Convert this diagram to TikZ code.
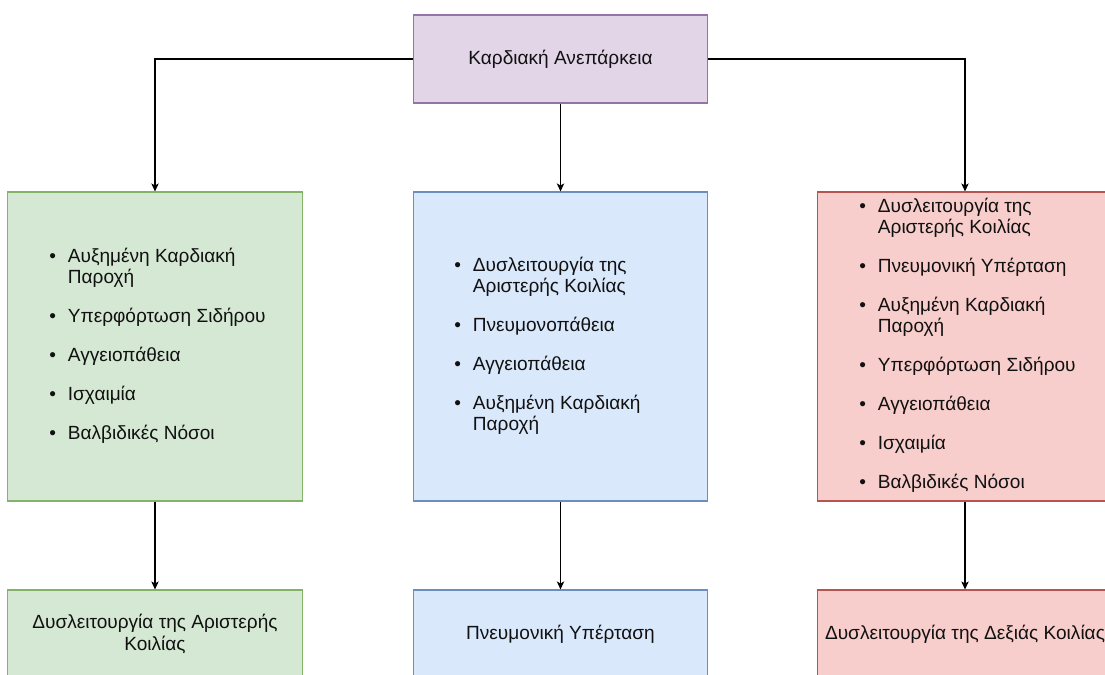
\documentclass[tikz,border=0pt]{standalone}
\usepackage{fontspec}
\setmainfont{Liberation Sans}
\usetikzlibrary{arrows.meta}
\definecolor{gfill}{HTML}{D5E8D4}\definecolor{gdraw}{HTML}{82B366}
\definecolor{bfill}{HTML}{DAE8FC}\definecolor{bdraw}{HTML}{6C8EBF}
\definecolor{rfill}{HTML}{F8CECC}\definecolor{rdraw}{HTML}{B85450}
\definecolor{pfill}{HTML}{E1D5E7}\definecolor{pdraw}{HTML}{9673A6}
\definecolor{txt}{HTML}{111111}
\newcommand{\blist}[1]{{\fontsize{14.3}{15.75}\selectfont\begin{tabular}{@{}p{14pt}@{}l@{}}#1\end{tabular}}}
\tikzset{
  box/.style={draw, rectangle, line width=0.8pt, minimum width=221pt, inner sep=0pt},
  tallbox/.style={box, minimum height=231.75pt},
  shortbox/.style={box, minimum height=66pt},
  green/.style={fill=gfill, draw=gdraw},
  blue/.style={fill=bfill, draw=bdraw},
  red/.style={fill=rfill, draw=rdraw},
  purple/.style={fill=pfill, draw=pdraw},
  lbl/.style={font=\fontsize{14.3}{16.5}\selectfont, text=txt, align=center},
  listnode/.style={inner sep=0pt, anchor=west, text=txt},
  arr/.style={-{Stealth[length=6pt,width=5.5pt,inset=1.5pt]}, line width=0.9pt, black}
}
\begin{document}
\begin{tikzpicture}[x=0.75pt, y=-0.75pt]
\useasboundingbox (0,0) rectangle (1105,674);
\clip (0,0) rectangle (1105,674);
\node[shortbox, purple, lbl] (top) at (560.5,59) {Καρδιακή Ανεπάρκεια};
\node[tallbox, green] (l1) at (155,346.5) {};
\node[tallbox, blue] (m1) at (560.5,346.5) {};
\node[tallbox, red] (r1) at (965,346.5) {};
\node[shortbox, green, lbl] (l2) at (155,634) {Δυσλειτουργία της Αριστερής\\Κοιλίας};
\node[shortbox, blue, lbl] (m2) at (560.5,634) {Πνευμονική Υπέρταση};
\node[shortbox, red, lbl] (r2) at (965,634) {Δυσλειτουργία της Δεξιάς Κοιλίας};
\node[listnode] (lt) at (49,346.5) {\blist{%
\textbullet & Αυξημένη Καρδιακή\\ & Παροχή\\[13.5pt]
\textbullet & Υπερφόρτωση Σιδήρου\\[13.5pt]
\textbullet & Αγγειοπάθεια\\[13.5pt]
\textbullet & Ισχαιμία\\[13.5pt]
\textbullet & Βαλβιδικές Νόσοι}};
\node[listnode] (mt) at (454,346.5) {\blist{%
\textbullet & Δυσλειτουργία της\\ & Αριστερής Κοιλίας\\[13.5pt]
\textbullet & Πνευμονοπάθεια\\[13.5pt]
\textbullet & Αγγειοπάθεια\\[13.5pt]
\textbullet & Αυξημένη Καρδιακή\\ & Παροχή}};
\node[listnode] (rt) at (859,346.5) {\blist{%
\textbullet & Δυσλειτουργία της\\ & Αριστερής Κοιλίας\\[13.5pt]
\textbullet & Πνευμονική Υπέρταση\\[13.5pt]
\textbullet & Αυξημένη Καρδιακή\\ & Παροχή\\[13.5pt]
\textbullet & Υπερφόρτωση Σιδήρου\\[13.5pt]
\textbullet & Αγγειοπάθεια\\[13.5pt]
\textbullet & Ισχαιμία\\[13.5pt]
\textbullet & Βαλβιδικές Νόσοι}};
\draw[arr] (top.west) -| (l1.north);
\draw[arr] (top.east) -| (r1.north);
\draw[arr] (top.south) -- (m1.north);
\draw[arr] (l1.south) -- (l2.north);
\draw[arr] (m1.south) -- (m2.north);
\draw[arr] (r1.south) -- (r2.north);
\end{tikzpicture}
\end{document}
